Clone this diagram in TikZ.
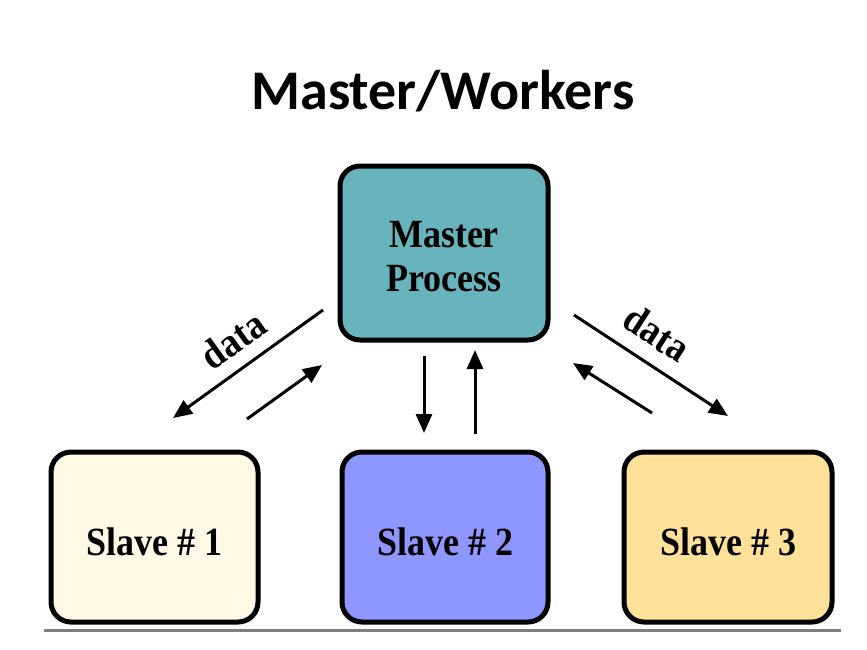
\documentclass[tikz,border=0pt]{standalone}
\usepackage{fontspec}
\setmainfont{Liberation Serif}[FakeStretch=0.9]
\newfontfamily\titlefont{Carlito}
\usetikzlibrary{arrows.meta}
\definecolor{mastercol}{HTML}{68B4BC}
\definecolor{slaveA}{HTML}{FFF9E6}
\definecolor{slaveB}{HTML}{8E96FF}
\definecolor{slaveC}{HTML}{FFE199}
\definecolor{floorcol}{HTML}{7F7F7F}
\tikzset{
	procbox/.style={draw=black, line width=5pt, rounded corners=20pt, inner sep=0pt},
	boxtext/.style={align=center, inner sep=0pt, yshift=-4pt, font=\bfseries\fontsize{40}{44}\selectfont},
	flow/.style={line width=3pt, -{Triangle[length=19pt,width=16pt]}},
	lbl/.style={font=\bfseries\fontsize{41}{41}\selectfont, inner sep=0pt}
}
\begin{document}
\begin{tikzpicture}[x=1pt,y=-1pt]
	\useasboundingbox (0,0) rectangle (867,649);
	\node [anchor=base, font=\titlefont\bfseries\fontsize{56}{56}\selectfont] (title) at (443,109) {Master/Workers};
	\node [procbox, fill=mastercol, minimum width=208pt, minimum height=174pt,
		label={[boxtext]center:Master\\Process}] (master) at (444,253) {};
	\node [procbox, fill=slaveA, minimum width=207pt, minimum height=170pt,
		label={[boxtext, yshift=-1pt]center:Slave \# 1}] (slave1) at (154.5,537) {};
	\node [procbox, fill=slaveB, minimum width=206pt, minimum height=170pt,
		label={[boxtext, yshift=-1pt]center:Slave \# 2}] (slave2) at (445,537) {};
	\node [procbox, fill=slaveC, minimum width=208pt, minimum height=170pt,
		label={[boxtext, yshift=-1pt]center:Slave \# 3}] (slave3) at (728,537) {};
	% arrow ends
	\coordinate (a1) at (323,310);
	\coordinate (b1) at (173,418);
	\coordinate (a2) at (247,419);
	\coordinate (b2) at (322,365);
	\coordinate (a3) at (424,356);
	\coordinate (b3) at (424,433);
	\coordinate (a4) at (475,434);
	\coordinate (b4) at (475,350);
	\coordinate (a5) at (574,315);
	\coordinate (b5) at (728,416);
	\coordinate (a6) at (652,413);
	\coordinate (b6) at (573,363);
	\draw [flow] (a1) -- (b1);
	\draw [flow] (a2) -- (b2);
	\draw [flow] (a3) -- (b3);
	\draw [flow] (a4) -- (b4);
	\draw [flow] (a5) -- (b5);
	\draw [flow] (a6) -- (b6);
	\node [lbl, rotate=35.7] (data1) at (233,340) {data};
	\node [lbl, rotate=-33] (data2) at (657,333) {data};
	% floor
	\coordinate (f1) at (44,630);
	\coordinate (f2) at (841,630);
	\draw [floorcol, line width=3pt] (f1) -- (f2);
\end{tikzpicture}
\end{document}
